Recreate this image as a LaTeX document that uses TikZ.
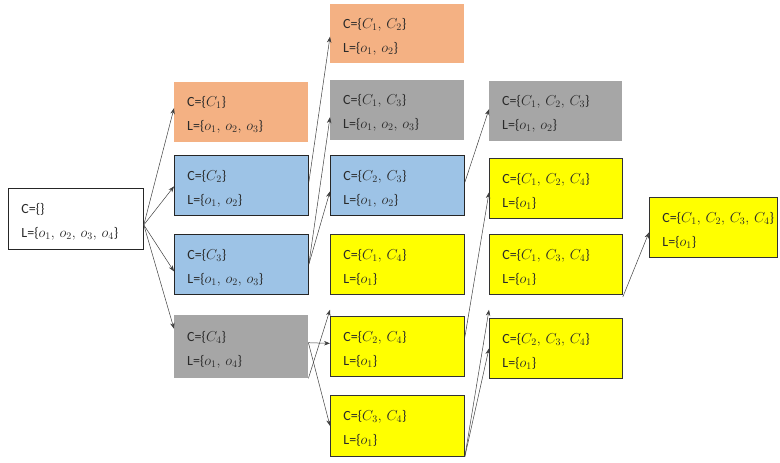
\documentclass[tikz,border=0pt]{standalone}
\usepackage{fontspec}
\setmainfont{Carlito}
\usetikzlibrary{arrows.meta}
\definecolor{salmon}{HTML}{F4B183}
\definecolor{lblue}{HTML}{9DC3E6}
\definecolor{lgrey}{HTML}{A6A6A6}
\definecolor{yel}{HTML}{FFFF00}
\definecolor{txt}{HTML}{2A2A2A}
\definecolor{edge}{HTML}{404040}
\newcommand{\cm}{,\,}
\begin{document}
\begin{tikzpicture}[x=1pt,y=-1pt,
  box/.style={rectangle, anchor=north west, inner xsep=13pt, inner ysep=0pt,
    text width=#1, minimum height=60pt, align=left, text=txt,
    font=\fontsize{14}{24}\selectfont,
    execute at begin node={\rule{0pt}{16pt}}},
  box/.default=108pt,
  orangebox/.style={box, fill=salmon},
  bluebox/.style={box, fill=lblue, draw=black!85, line width=0.8pt},
  greybox/.style={box, fill=lgrey},
  yelbox/.style={box, fill=yel, draw=black!80, line width=0.8pt},
  rootbox/.style={box=109pt, fill=white, draw=black!85, line width=0.8pt, minimum height=61pt},
  arr/.style={draw=edge, line width=0.5pt, -{Stealth[length=6pt,width=4.5pt]}}
]
\useasboundingbox (0,0) rectangle (780,463);
% root
\node[rootbox] (root) at (8,188) {C=\{\}\\L=\{$o_1\cm o_2\cm o_3\cm o_4$\}};
% column 1
\node[orangebox] (c1) at (174,82) {C=\{$C_1$\}\\L=\{$o_1\cm o_2\cm o_3$\}};
\node[bluebox] (c2) at (174,155) {C=\{$C_2$\}\\L=\{$o_1\cm o_2$\}};
\node[bluebox] (c3) at (174,234) {C=\{$C_3$\}\\L=\{$o_1\cm o_2\cm o_3$\}};
\node[greybox, minimum height=63pt] (c4) at (174,315) {C=\{$C_4$\}\\L=\{$o_1\cm o_4$\}};
% column 2
\node[orangebox, minimum height=59pt] (c12) at (330,4) {C=\{$C_1\cm C_2$\}\\L=\{$o_1\cm o_2$\}};
\node[greybox] (c13) at (330,80) {C=\{$C_1\cm C_3$\}\\L=\{$o_1\cm o_2\cm o_3$\}};
\node[bluebox] (c23) at (330,155) {C=\{$C_2\cm C_3$\}\\L=\{$o_1\cm o_2$\}};
\node[yelbox] (c14) at (330,234) {C=\{$C_1\cm C_4$\}\\L=\{$o_1$\}};
\node[yelbox] (c24) at (330,316) {C=\{$C_2\cm C_4$\}\\L=\{$o_1$\}};
\node[yelbox, minimum height=61pt] (c34) at (330,395) {C=\{$C_3\cm C_4$\}\\L=\{$o_1$\}};
% column 3
\node[greybox, box=107pt] (c123) at (489,81) {C=\{$C_1\cm C_2\cm C_3$\}\\L=\{$o_1\cm o_2$\}};
\node[yelbox, box=107pt] (c124) at (489,158) {C=\{$C_1\cm C_2\cm C_4$\}\\L=\{$o_1$\}};
\node[yelbox, box=107pt] (c134) at (489,234) {C=\{$C_1\cm C_3\cm C_4$\}\\L=\{$o_1$\}};
\node[yelbox, box=107pt] (c234) at (489,318) {C=\{$C_2\cm C_3\cm C_4$\}\\L=\{$o_1$\}};
% column 4
\node[yelbox, box=102pt] (c1234) at (649,197) {C=\{$C_1\cm C_2\cm C_3\cm C_4$\}\\L=\{$o_1$\}};
% edges
\coordinate (rout) at ([yshift=-6pt]root.east);
\draw[arr] (rout) -- ([yshift=4pt]c1.west);
\draw[arr] (rout) -- ([yshift=-1pt]c2.west);
\draw[arr] (rout) -- ([yshift=-7pt]c3.west);
\draw[arr] (rout) -- ([yshift=18pt]c4.west);
\draw[arr] ([yshift=3pt]c2.east) -- ([yshift=-3pt]c12.west);
\draw[arr] (c3.east) -- ([yshift=-7pt]c13.west);
\draw[arr] (c3.east) -- ([yshift=-6pt]c23.west);
\draw[arr] ([yshift=4pt]c4.east) -- ([yshift=3pt]c24.west);
\draw[arr] (c4.south east) -- ([yshift=-15pt]c14.south west);
\draw[arr] ([yshift=4pt]c4.east) -- (c34.west);
\draw[arr] ([yshift=3pt]c23.east) -- ([yshift=2pt]c123.west);
\draw[arr] ([yshift=9pt]c24.east) -- ([yshift=-4pt]c124.west);
\draw[arr] (c34.south east) -- ([yshift=-15pt]c134.south west);
\draw[arr] (c34.south east) -- (c234.west);
\draw[arr] ([yshift=21pt]c234.north east) -- ([yshift=-5pt]c1234.west);
\end{tikzpicture}
\end{document}
